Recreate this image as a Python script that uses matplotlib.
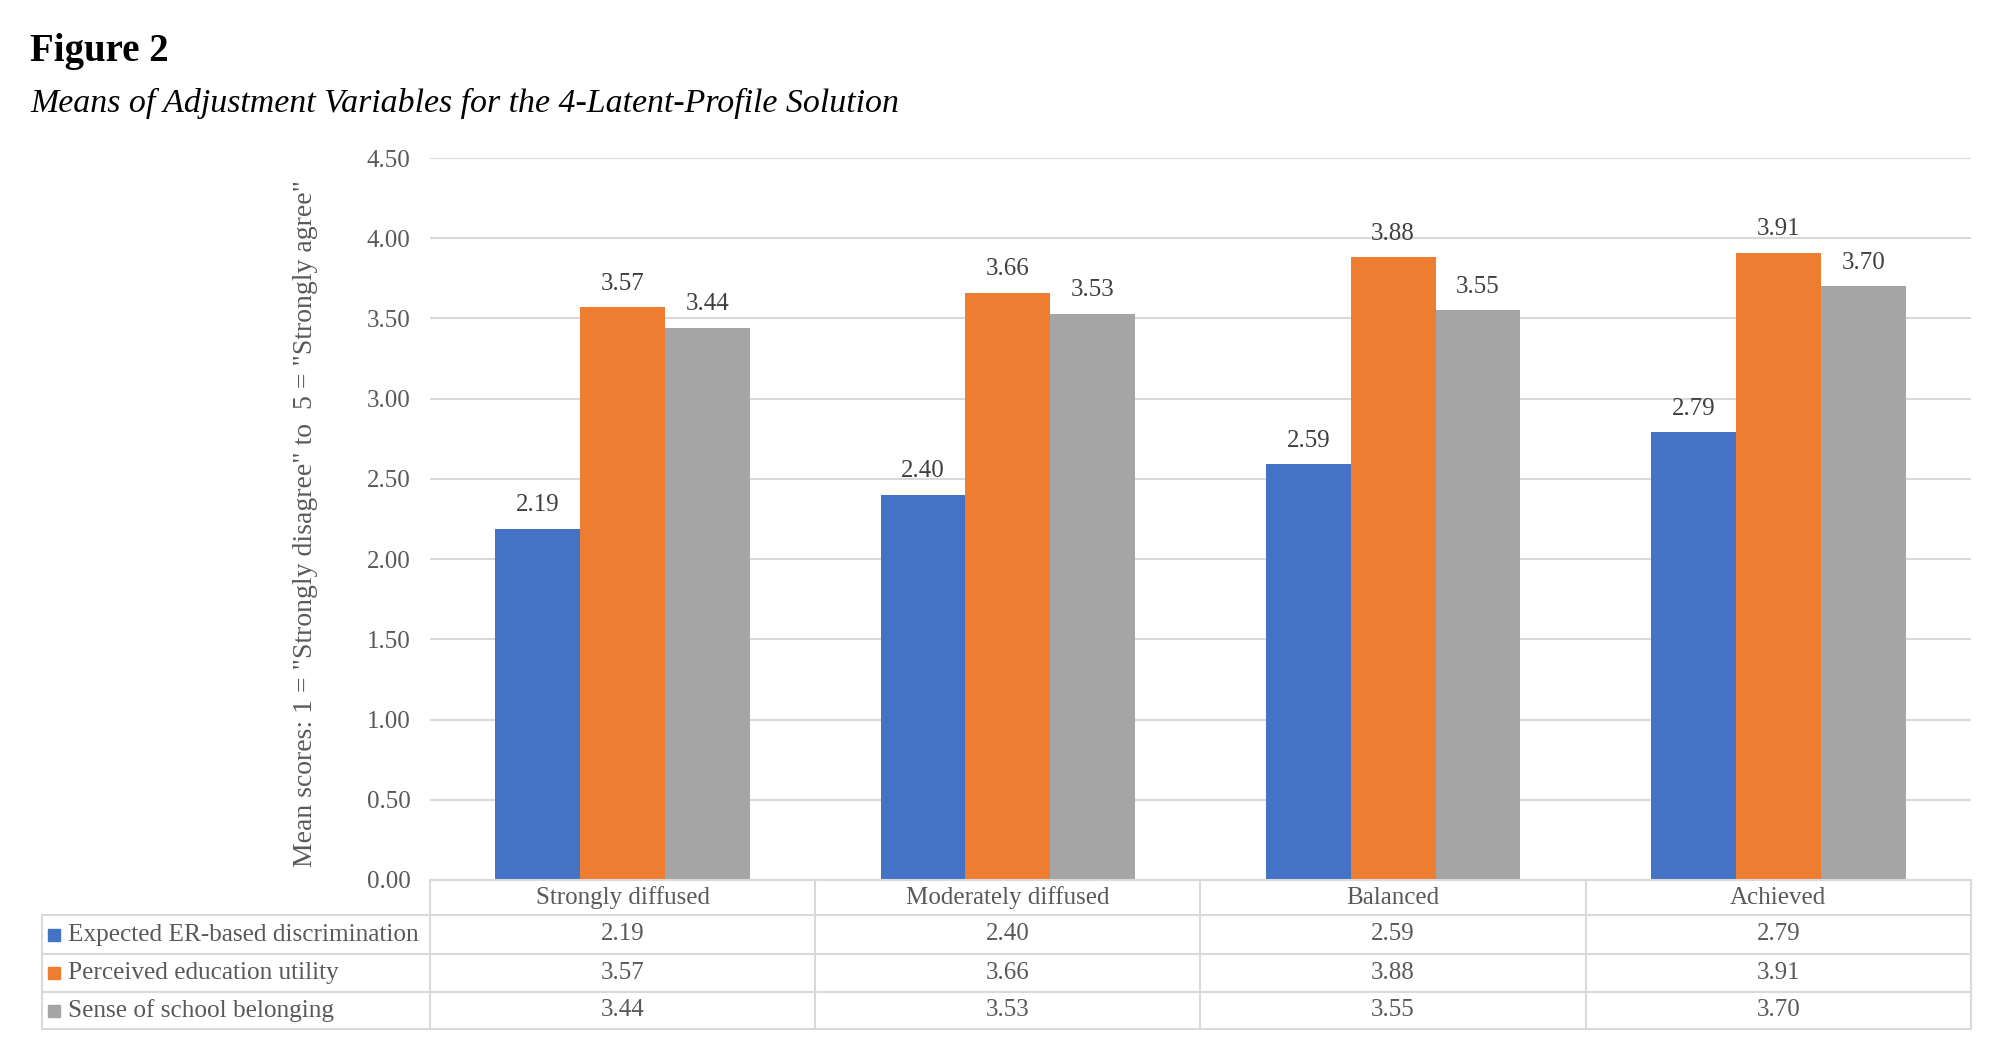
import numpy as np
import matplotlib.pyplot as plt
from matplotlib.lines import Line2D
from matplotlib.patches import Rectangle

categories = ["Strongly diffused", "Moderately diffused", "Balanced", "Achieved"]
series_names = ["Expected ER-based discrimination",
                "Perceived education utility",
                "Sense of school belonging"]
discrimination = [2.19, 2.40, 2.59, 2.79]
utility = [3.57, 3.66, 3.88, 3.91]
belonging = [3.44, 3.53, 3.55, 3.70]
yticks = [0.0, 0.5, 1.0, 1.5, 2.0, 2.5, 3.0, 3.5, 4.0, 4.5]

colors = ["#4472C4", "#ED7D31", "#A5A5A5"]
text_gray = "#595959"
grid_gray = "#D9D9D9"

plt.rcParams['font.family'] = ['Liberation Serif', 'DejaVu Serif']

W, H = 1999, 1040
fig = plt.figure(figsize=(W / 100, H / 100), dpi=100)

# plot area in pixels
left, right, top, zero = 430, 1971, 158, 880
ax = fig.add_axes([left / W, 1 - zero / H, (right - left) / W, (zero - top) / H])

all_series = [discrimination, utility, belonging]
x = np.arange(len(categories))
bw = 0.22
for i, vals in enumerate(all_series):
    pos = x + (i - 1) * bw
    ax.bar(pos, vals, width=bw, color=colors[i], zorder=3)
    for p, v in zip(pos, vals):
        ax.annotate(f"{v:.2f}", (p, v), xytext=(0, 17), textcoords="offset points",
                    ha="center", va="center", fontsize=18, color="#404040")

ax.set_xlim(-0.5, len(categories) - 0.5)
ax.set_ylim(0, 4.5)
ax.set_yticks(yticks)
ax.set_yticklabels([f"{t:.2f}" for t in yticks], fontsize=18, color=text_gray)
ax.set_xticks([])
ax.tick_params(axis="y", length=0, pad=14)
ax.grid(axis="y", color=grid_gray, linewidth=1.5, zorder=0)
for s in ax.spines.values():
    s.set_visible(False)
ax.set_ylabel('Mean scores: 1 = "Strongly disagree" to  5 = "Strongly agree"',
              fontsize=20, color=text_gray)
ax.yaxis.set_label_coords(-0.0727, 0.494)

# data table below the chart, in pixel coords
def fx(px):
    return px / W

def fy(py):
    return 1 - py / H

row_y = [880, 915, 954, 992, 1029]
table_left = 42
col_w = (right - left) / len(categories)
col_x = [left + k * col_w for k in range(len(categories) + 1)]

def hline(y, x0, x1):
    fig.add_artist(Line2D([fx(x0), fx(x1)], [fy(y), fy(y)], color=grid_gray, lw=1.5))

def vline(xp, y0, y1):
    fig.add_artist(Line2D([fx(xp), fx(xp)], [fy(y0), fy(y1)], color=grid_gray, lw=1.5))

hline(row_y[0], left, right)
for y in row_y[1:]:
    hline(y, table_left, right)
for xp in col_x:
    vline(xp, row_y[0], row_y[-1])
vline(table_left, row_y[1], row_y[-1])

for k, cat in enumerate(categories):
    cx = (col_x[k] + col_x[k + 1]) / 2
    fig.text(fx(cx), fy((row_y[0] + row_y[1]) / 2), cat, ha="center", va="center",
             fontsize=18, color=text_gray)

for r, (name, vals) in enumerate(zip(series_names, all_series)):
    cy = (row_y[r + 1] + row_y[r + 2]) / 2
    fig.add_artist(Rectangle((fx(48), fy(cy + 6)), 12 / W, 12 / H,
                             color=colors[r], transform=fig.transFigure))
    fig.text(fx(68), fy(cy), name, ha="left", va="center", fontsize=18.2, color=text_gray)
    for k, v in enumerate(vals):
        cx = (col_x[k] + col_x[k + 1]) / 2
        fig.text(fx(cx), fy(cy), f"{v:.2f}", ha="center", va="center",
                 fontsize=18, color=text_gray)

fig.text(fx(30), fy(51), "Figure 2", ha="left", va="center", fontsize=28,
         fontweight="bold", color="black")
fig.text(fx(30), fy(103), "Means of Adjustment Variables for the 4-Latent-Profile Solution",
         ha="left", va="center", fontsize=24.4, fontstyle="italic", color="black")

fig.savefig("out.png", dpi=100)
